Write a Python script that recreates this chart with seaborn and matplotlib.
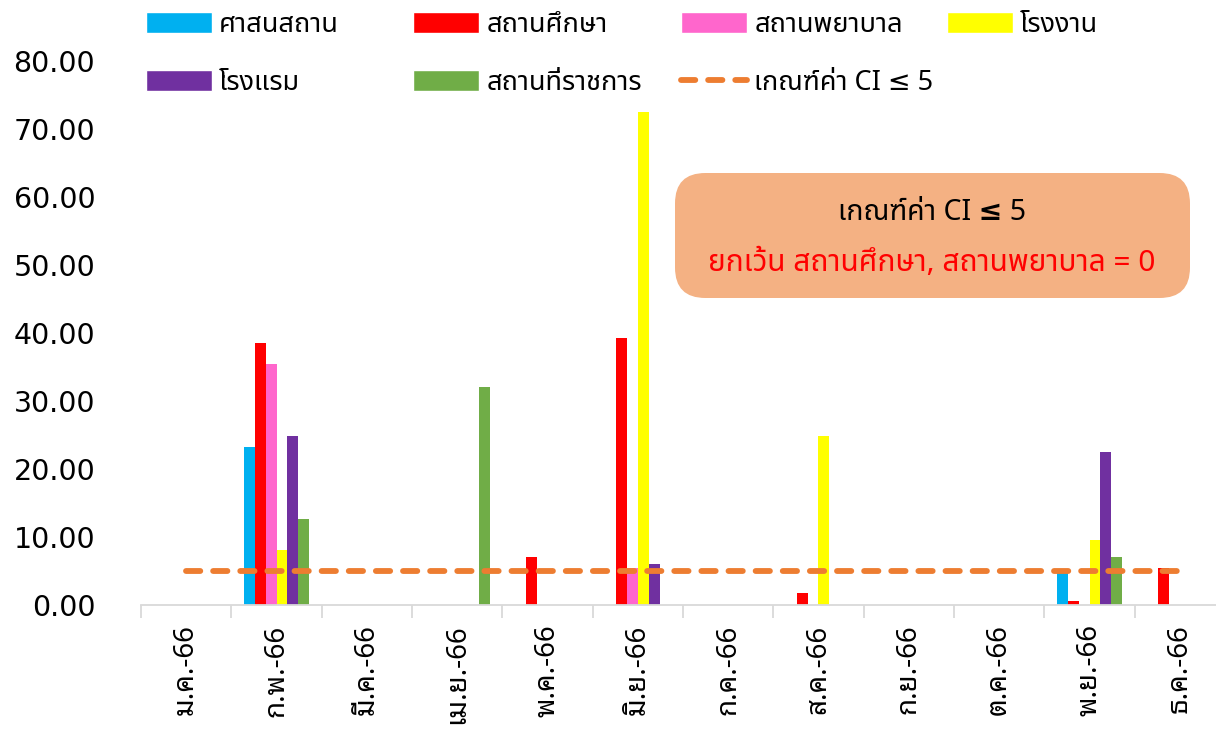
import matplotlib
matplotlib.use("Agg")
import matplotlib.pyplot as plt
from matplotlib.patches import FancyBboxPatch, Patch
from matplotlib.lines import Line2D
import seaborn as sns
import pandas as pd

# ข้อมูล (อ่านค่าจากกราฟ)
months = ["ม.ค.-66", "ก.พ.-66", "มี.ค.-66", "เม.ย.-66", "พ.ค.-66", "มิ.ย.-66",
          "ก.ค.-66", "ส.ค.-66", "ก.ย.-66", "ต.ค.-66", "พ.ย.-66", "ธ.ค.-66"]
series_names = ["ศาสนสถาน", "สถานศึกษา", "สถานพยาบาล", "โรงงาน", "โรงแรม", "สถานที่ราชการ"]
temple = [0, 23.2, 0, 0, 0, 0, 0, 0, 0, 0, 4.9, 0]
school = [0, 38.5, 0, 0, 7.0, 39.2, 0, 1.8, 0, 0, 0.6, 5.4]
hospital = [0, 35.5, 0, 0, 0, 5.4, 0, 0, 0, 0, 0, 0]
factory = [0, 8.1, 0, 0, 0, 72.5, 0, 24.8, 0, 0, 9.6, 0]
hotel = [0, 24.8, 0, 0, 0, 6.0, 0, 0, 0, 0, 22.5, 0]
office = [0, 12.7, 0, 32.0, 0, 0, 0, 0, 0, 0, 7.1, 0]
ci_limit = [5] * 12

colors = ["#00B0F0", "#FF0000", "#FF66CC", "#FFFF00", "#7030A0", "#70AD47"]
line_color = "#ED7D31"

df = pd.DataFrame({"เดือน": months * 6,
                   "ชนิด": [s for s in series_names for _ in months],
                   "ค่า": temple + school + hospital + factory + hotel + office})

sns.set_theme(style="white")
plt.rcParams["font.family"] = ["Noto Sans Thai", "DejaVu Sans"]
thai_loop = ["Noto Sans Thai Looped", "DejaVu Sans"]

fig = plt.figure(figsize=(12.16, 7.35), dpi=100)
ax = fig.add_axes([141 / 1216, 1 - 605 / 735, (1225 - 141) / 1216, (605 - 61) / 735])

sns.barplot(data=df, x="เดือน", y="ค่า", hue="ชนิด", order=months,
            hue_order=series_names, palette=colors, saturation=1, width=0.73,
            gap=0, linewidth=0, legend=False, ax=ax)
ax.plot(range(len(months)), ci_limit, color=line_color, lw=4.2,
        dashes=(2.45, 2.2), dash_capstyle="round")

ax.set_xlim(-0.5, 11.5)
ax.set_ylim(0, 80)
ax.set_xlabel("")
ax.set_ylabel("")

# แกน y
ax.set_yticks(range(0, 81, 10))
ax.set_yticklabels([f"{v:.2f}" for v in range(0, 81, 10)], fontsize=20.5,
                   family="DejaVu Sans", color="black")
ax.tick_params(axis="y", length=0, pad=33)

# แกน x: ขีดที่ขอบเดือน ป้ายกลางเดือน
ax.set_xticks([i - 0.5 for i in range(13)])
ax.set_xticklabels([])
ax.set_xticks(range(12), minor=True)
ax.set_xticklabels(months, minor=True, rotation=90, fontsize=20, family=thai_loop,
                   color="black")
ax.tick_params(axis="x", which="major", length=9, width=1.3, color="#D9D9D9", bottom=True)
ax.tick_params(axis="x", which="minor", length=0, pad=14)

for s in ["top", "right", "left"]:
    ax.spines[s].set_visible(False)
ax.spines["bottom"].set_color("#D9D9D9")
ax.spines["bottom"].set_linewidth(1.3)

# legend: วางทีละรายการ 2 แถว x 4 คอลัมน์
handles = [Patch(facecolor=c, label=n) for c, n in zip(colors, series_names)]
ci_handle = Line2D([], [], color=line_color, lw=4.2, dashes=(2.45, 2.2),
                   dash_capstyle="round", label="เกณฑ์ค่า CI ≤ 5")
items = handles[:4] + handles[4:] + [ci_handle]
col_x = [146, 413, 681, 947]
row_y = [25, 83]
for i, h in enumerate(items):
    x = col_x[i % 4] / 1216
    y = 1 - row_y[i // 4] / 735
    fig.legend(handles=[h], labels=[h.get_label()], loc="center left",
               bbox_to_anchor=(x, y), frameon=False, fontsize=19.5,
               handlelength=2.45, handleheight=0.85, handletextpad=0.25,
               borderpad=0, borderaxespad=0, labelcolor="black")

# กล่องข้อความ
box = FancyBboxPatch((675 / 1216, 1 - 298 / 735), 515 / 1216, 125 / 735,
                     boxstyle="round,pad=0,rounding_size=0.025", transform=fig.transFigure,
                     facecolor="#F4B183", edgecolor="none", mutation_aspect=1216 / 735)
fig.patches.append(box)
fig.text(932 / 1216, 1 - 213 / 735, "เกณฑ์ค่า CI ≤ 5", ha="center", va="center",
         fontsize=20.5, color="black", weight="semibold")
fig.text(932 / 1216, 1 - 263 / 735, "ยกเว้น สถานศึกษา, สถานพยาบาล = 0", ha="center",
         va="center", fontsize=21.5, color="#FF0000", weight="semibold")

fig.savefig("out.png", dpi=100)
